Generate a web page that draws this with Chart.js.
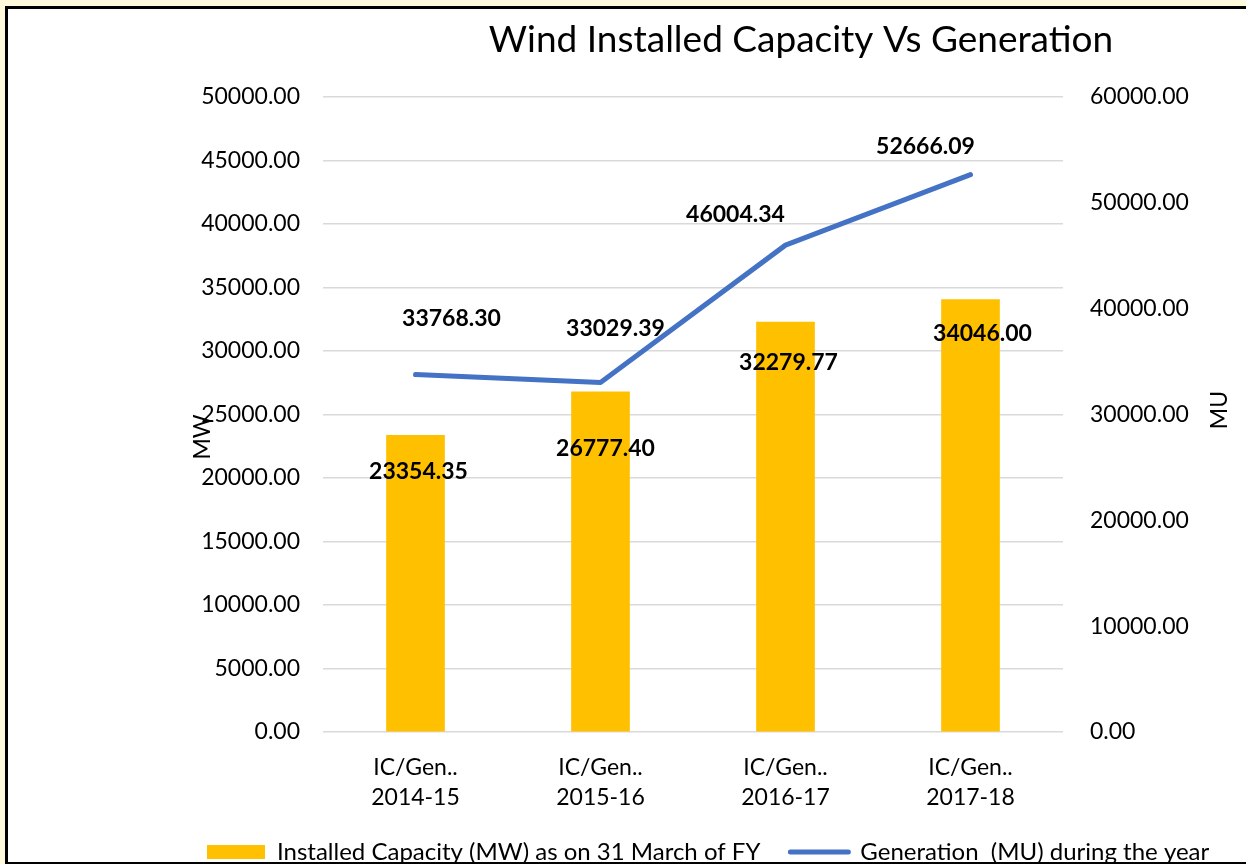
<!DOCTYPE html>
<html>
<head>
<meta charset="utf-8">
<title>Wind Installed Capacity Vs Generation</title>
<script src="https://cdn.jsdelivr.net/npm/chart.js@4.4.1/dist/chart.umd.min.js"></script>
<style>
  html, body { margin: 0; padding: 0; width: 1246px; height: 864px; overflow: hidden; background: #fffadc; }
  #frame {
    position: absolute; left: 5px; top: 6px;
    width: 1500px; height: 853px;
    border: 3px solid #000;
    background: #fff;
    overflow: hidden;
  }
  #windChart { display: block; }
</style>
</head>
<body>
<div id="frame"><canvas id="windChart" width="1430" height="865"></canvas></div>
<script>
// Chart data
const chartTitle = 'Wind Installed Capacity Vs Generation';
const categories = [
  ['IC/Gen..', '2014-15'],
  ['IC/Gen..', '2015-16'],
  ['IC/Gen..', '2016-17'],
  ['IC/Gen..', '2017-18']
];
const capacityLabel = 'Installed Capacity (MW) as on 31 March of FY';
const generationLabel = 'Generation  (MU) during the year';
const capacityMW = [23354.35, 26777.40, 32279.77, 34046.00];
const generationMU = [33768.30, 33029.39, 46004.34, 52666.09];
const leftAxisTitle = 'MW';
const rightAxisTitle = 'MU';

// Axis ranges
const mwMax = 50000, mwStep = 5000;
const muMax = 60000, muStep = 10000;

// Where each value label sits relative to its bar top / line point
const capacityLabelOffsets = [[3, 35], [5, 56], [3, 40], [12, 33]];
const generationLabelOffsets = [[36, -57], [15, -55], [-50, -31], [-45, -29]];

const FONT = 'Lato';
Chart.defaults.font.family = FONT;
Chart.defaults.color = '#000';

/**
 * Draws bold value labels next to each bar and line point
 */
const valueLabels = {
  id: 'valueLabels',
  afterDatasetsDraw(chart, args, opts) {
    const ctx = chart.ctx;
    const size = opts.size;
    ctx.save();
    ctx.font = `bold ${size}px ${FONT}`;
    ctx.fillStyle = '#000';
    ctx.textAlign = 'center';
    ctx.textBaseline = 'alphabetic';
    chart.data.datasets.forEach((ds, i) => {
      const meta = chart.getDatasetMeta(i);
      const offsets = opts.offsets[i];
      meta.data.forEach((el, j) => {
        const [dx, dy] = offsets[j];
        ctx.fillText(ds.data[j].toFixed(2), el.x + dx, el.y + dy + size * 0.36);
      });
    });
    ctx.restore();
  }
};

/**
 * Chart heading and the two axis titles (both read bottom-to-top, Excel style)
 */
const chartTexts = {
  id: 'chartTexts',
  afterDraw(chart, args, opts) {
    const ctx = chart.ctx;
    ctx.save();
    ctx.fillStyle = '#000';
    ctx.textAlign = 'center';

    ctx.font = `${opts.titleSize}px ${FONT}`;
    ctx.textBaseline = 'alphabetic';
    ctx.fillText(opts.title, opts.titleX, opts.titleY);

    ctx.font = `${opts.axisSize}px ${FONT}`;
    ctx.textBaseline = 'middle';
    opts.axisTitles.forEach(t => {
      ctx.save();
      ctx.translate(t.x, t.y);
      ctx.rotate(-Math.PI / 2);
      ctx.fillText(t.text, 0, 0);
      ctx.restore();
    });
    ctx.restore();
  }
};

const tickFont = { family: FONT, size: 23, lineHeight: 1.3 };

new Chart(document.getElementById('windChart'), {
  type: 'bar',
  data: {
    labels: categories,
    datasets: [{
      type: 'bar',
      label: capacityLabel,
      data: capacityMW,
      backgroundColor: '#FFC000',
      barThickness: 58,
      yAxisID: 'yMW'
    }, {
      type: 'line',
      label: generationLabel,
      data: generationMU,
      borderColor: '#4472C4',
      backgroundColor: '#4472C4',
      borderWidth: 5,
      borderCapStyle: 'round',
      borderJoinStyle: 'round',
      pointRadius: 0,
      tension: 0,
      yAxisID: 'yMU'
    }]
  },
  options: {
    responsive: false,
    animation: false,
    layout: { padding: { left: 169, right: 104, top: 88, bottom: 0 } },
    plugins: {
      tooltip: { enabled: false },
      legend: {
        position: 'bottom',
        align: 'start',
        labels: {
          usePointStyle: true,
          pointStyleWidth: 58,
          boxHeight: 14,
          padding: 30,
          color: '#000',
          font: { family: FONT, size: 24 },
          generateLabels(chart) {
            return chart.data.datasets.map((ds, i) => {
              const isBar = ds.type === 'bar';
              const color = isBar ? ds.backgroundColor : ds.borderColor;
              return {
                text: ds.label,
                datasetIndex: i,
                fillStyle: color,
                strokeStyle: color,
                lineWidth: isBar ? 0 : 5,
                lineCap: 'round',
                pointStyle: isBar ? 'rect' : 'line',
                hidden: false
              };
            });
          }
        }
      },
      valueLabels: {
        size: 23,
        offsets: [capacityLabelOffsets, generationLabelOffsets]
      },
      chartTexts: {
        title: chartTitle, titleSize: 37, titleX: 793, titleY: 43,
        axisSize: 23,
        axisTitles: [
          { text: leftAxisTitle, x: 195, y: 428 },
          { text: rightAxisTitle, x: 1212, y: 401 }
        ]
      }
    },
    scales: {
      x: {
        grid: { display: false, drawTicks: false },
        border: { display: false },
        ticks: { color: '#000', font: tickFont, padding: 21, maxRotation: 0, autoSkip: false },
        afterFit(scale) { scale.height = 78; }
      },
      yMW: {
        position: 'left',
        min: 0,
        max: mwMax,
        ticks: {
          stepSize: mwStep,
          padding: 23,
          color: '#000',
          font: tickFont,
          callback: v => Number(v).toFixed(2)
        },
        grid: { color: '#d9d9d9', lineWidth: 1.5, drawTicks: false },
        border: { display: false },
        afterFit(scale) { scale.width = 146; }
      },
      yMU: {
        position: 'right',
        min: 0,
        max: muMax,
        ticks: {
          stepSize: muStep,
          padding: 27,
          color: '#000',
          font: tickFont,
          callback: v => Number(v).toFixed(2)
        },
        grid: { display: false, drawTicks: false },
        border: { display: false },
        afterFit(scale) { scale.width = 271; }
      }
    }
  },
  plugins: [valueLabels, chartTexts]
});
</script>
</body>
</html>
